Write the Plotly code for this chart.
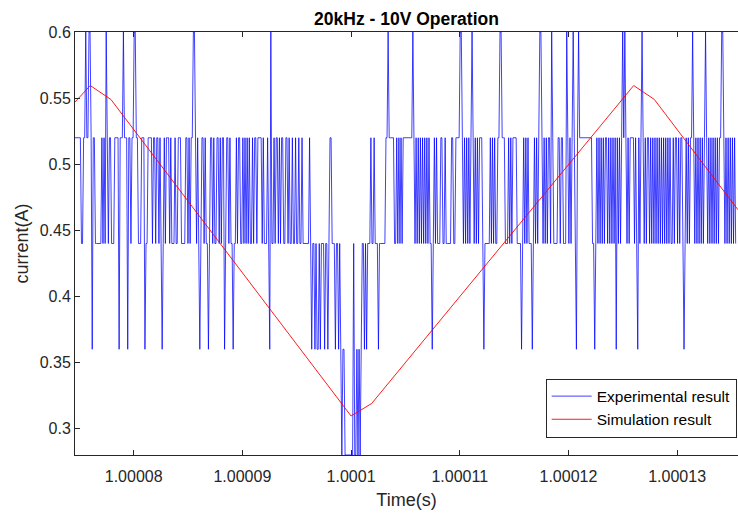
import plotly.graph_objects as go

# ---- data ----
# Experimental current: quantised ADC levels, one digit per sample (index into exp_levels)
exp_levels = [0.28, 0.36, 0.44, 0.52, 0.60]
exp_t0 = 1.0000746          # first sample time (s)
exp_dt = 0.099e-6           # sample interval (s)
exp_codes = [
    "3333332233" "4334431332" "2222232324" "3233222333" "3133343331" "3323344332" "2233312233" "3323323",
    "3232123233" "3232223223" "3322223323" "2334432321" "2332322123" "3232233232" "3312332322" "1223233",
    "2232323232" "2323323333" "2322232142" "2323323233" "2233232232" "2322322322" "2222321221" "2112122",
    "2122123322" "2122121011" "0000000020" "0101012212" "1222322322" "2122222233" "4333332232" "3232333",
    "3333334323" "2323232323" "2322123232" "2233223222" "2233223333" "4432323232" "3432323233" "3212222",
    "2323232233" "4433322232" "3233332222" "1232323222" "1232323443" "2323233243" "2222332332" "2243232",
    "3432134333" "3333333332" "2123232323" "2332323232" "3132323434" "3232333323" "2132343232" "3323232",
    "3232323232" "3232322323" "3232332123" "2323343232" "3232323432" "3232323232" "3344323232" "323232",
]

# Simulation result (triangle current)
sim_t = [1.0000746, 1.0000760, 1.0000779, 1.0001000, 1.0001019, 1.0001260, 1.0001279, 1.0001356]
sim_i = [0.547, 0.5595, 0.549, 0.3095, 0.319, 0.5595, 0.549, 0.4655]

x_ticks = [1.00008, 1.00009, 1.0001, 1.00011, 1.00012, 1.00013]
x_tick_text = ["1.00008", "1.00009", "1.0001", "1.00011", "1.00012", "1.00013"]
y_ticks = [0.3, 0.35, 0.4, 0.45, 0.5, 0.55, 0.6]
y_tick_text = ["0.3", "0.35", "0.4", "0.45", "0.5", "0.55", "0.6"]

# ---- build series ----
code_str = "".join(exp_codes)
exp_i = [exp_levels[int(c)] for c in code_str]
exp_t = [exp_t0 + k * exp_dt for k in range(len(exp_i))]

FONT = "Liberation Sans, Arial, sans-serif"
AX = "rgb(38,38,38)"

fig = go.Figure()
fig.add_trace(go.Scatter(x=exp_t, y=exp_i, mode="lines", name="Experimental result",
                         line=dict(color="rgb(0,0,255)", width=0.75)))
fig.add_trace(go.Scatter(x=sim_t, y=sim_i, mode="lines", name="Simulation result",
                         line=dict(color="rgb(255,0,0)", width=0.9)))

fig.update_layout(
    width=738, height=513,
    margin=dict(l=75, r=0, t=32, b=58),
    paper_bgcolor="white", plot_bgcolor="white",
    font=dict(family=FONT, size=16, color=AX),
    title=dict(text="<b>20kHz - 10V Operation</b>", x=(75 + 738) / 2 / 738, xanchor="center",
               y=1 - 19 / 513, yanchor="middle", yref="container",
               font=dict(family=FONT, size=17.5, color="black")),
    showlegend=True,
    legend=dict(x=0.998, xanchor="right", y=0.111, yanchor="middle",
                bgcolor="white", bordercolor="rgb(38,38,38)", borderwidth=1,
                font=dict(family=FONT, size=15.5, color="black"),
                tracegroupgap=0, itemwidth=40),
    xaxis=dict(range=[1.0000746, 1.0001356], tickvals=x_ticks, ticktext=x_tick_text,
               showgrid=False, zeroline=False, showline=True, linecolor=AX, linewidth=1,
               mirror="ticks", ticks="inside", ticklen=5, tickcolor=AX,
               tickfont=dict(size=16, color=AX), ticklabelstandoff=7,
               title=dict(text="Time(s)", font=dict(size=18, color=AX), standoff=9)),
    yaxis=dict(range=[0.28, 0.6], tickvals=y_ticks, ticktext=y_tick_text,
               showgrid=False, zeroline=False, showline=True, linecolor=AX, linewidth=1,
               mirror=False, ticks="inside", ticklen=5, tickcolor=AX,
               tickfont=dict(size=16, color=AX),
               title=dict(text="current(A)", font=dict(size=18, color=AX), standoff=6)),
)

fig.write_html("out.html")
